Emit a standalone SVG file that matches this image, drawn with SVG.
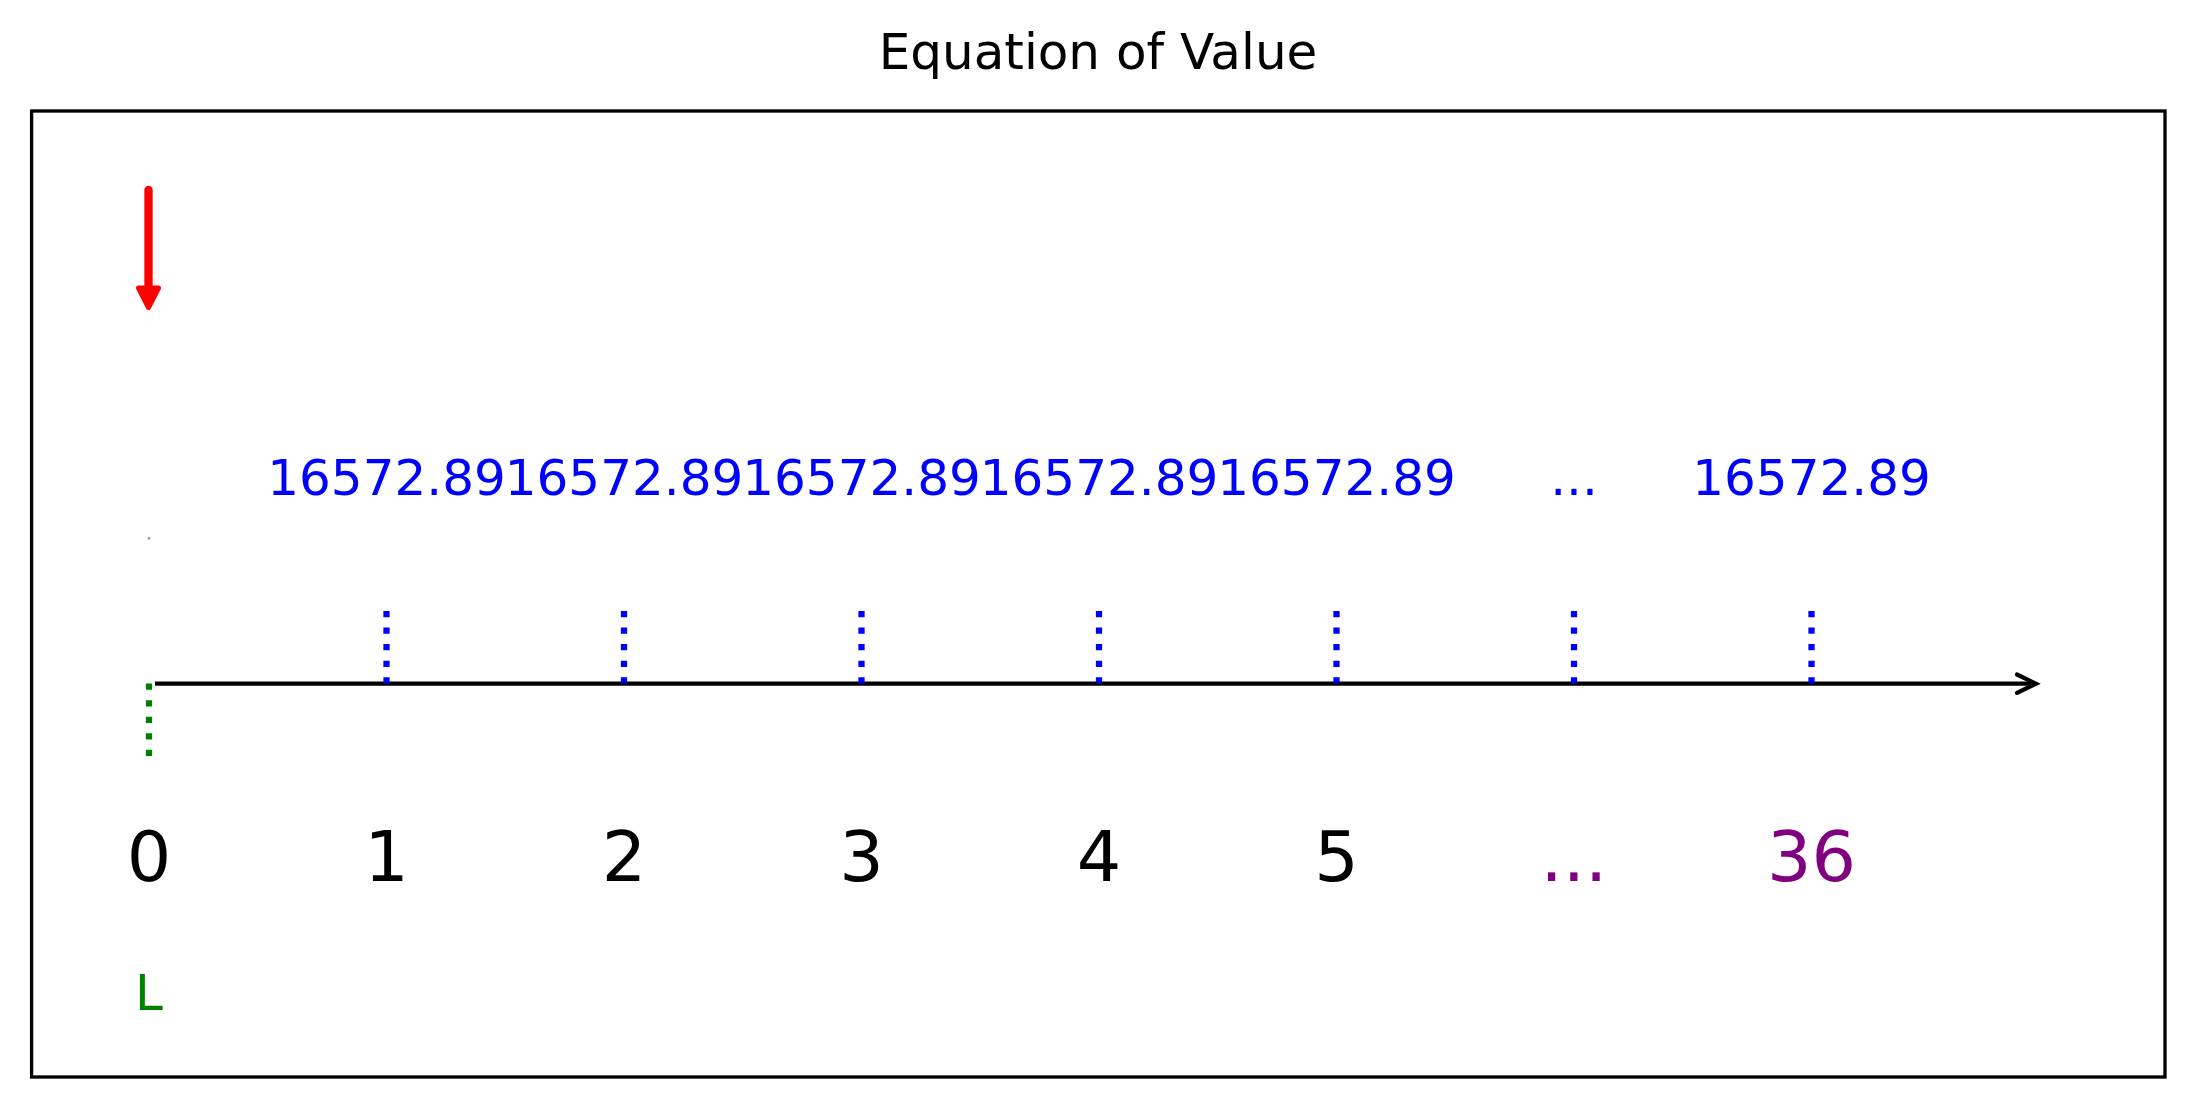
<svg xmlns="http://www.w3.org/2000/svg" width="2196" height="1109" viewBox="0 0 2196 1109">
<style>
text{font-family:"DejaVu Sans","Liberation Sans",sans-serif;text-anchor:middle}
.t{font-size:50px}
.big{font-size:70px}
.blue{fill:#0000ff}
.purple{fill:#800080}
.vb{stroke:#0000ff;stroke-width:6.25;stroke-dasharray:6.25 10.31;fill:none}
.vg{stroke:#008000;stroke-width:6.25;stroke-dasharray:6.25 10.31;fill:none}
</style>
<rect x="0" y="0" width="2196" height="1109" fill="#ffffff"/>
<text class="t" x="1098" y="68.5" fill="#000000">Equation of Value</text>
<rect x="31.6" y="111" width="2133.4" height="966" fill="none" stroke="#000000" stroke-width="3.33"/>
<g id="connectors">
  <line x1="155" y1="683.7" x2="2034" y2="683.7" stroke="#000000" stroke-width="4.17"/>
  <polyline points="2017,674.5 2036,683.7 2017,692.9" fill="none" stroke="#000000" stroke-width="4.17" stroke-linecap="round" stroke-linejoin="miter"/>
  <line x1="148.5" y1="190" x2="148.5" y2="292" stroke="#ff0000" stroke-width="8.33" stroke-linecap="round"/>
  <polygon points="138.5,288 158.5,288 148.5,307.5" fill="#ff0000" stroke="#ff0000" stroke-width="5" stroke-linejoin="round"/>
  <line class="vg" x1="149" y1="683.6" x2="149" y2="756"/>
  <line class="vb" x1="386.5" y1="611" x2="386.5" y2="683.6"/>
  <line class="vb" x1="624" y1="611" x2="624" y2="683.6"/>
  <line class="vb" x1="861.5" y1="611" x2="861.5" y2="683.6"/>
  <line class="vb" x1="1099" y1="611" x2="1099" y2="683.6"/>
  <line class="vb" x1="1336.5" y1="611" x2="1336.5" y2="683.6"/>
  <line class="vb" x1="1574" y1="611" x2="1574" y2="683.6"/>
  <line class="vb" x1="1811.5" y1="611" x2="1811.5" y2="683.6"/>
</g>
<g id="dot"><circle cx="149" cy="538.3" r="1.4" fill="#999999"/></g>
<g id="t0"><text class="big" x="149" y="880.5">0</text><text class="t" x="149" y="1010" fill="#008000">L</text></g>
<g id="t1"><text class="big" x="386.5" y="880.5">1</text><text class="t blue" x="386.5" y="495">16572.89</text></g>
<g id="t2"><text class="big" x="624" y="880.5">2</text><text class="t blue" x="624" y="495">16572.89</text></g>
<g id="t3"><text class="big" x="861.5" y="880.5">3</text><text class="t blue" x="861.5" y="495">16572.89</text></g>
<g id="t4"><text class="big" x="1099" y="880.5">4</text><text class="t blue" x="1099" y="495">16572.89</text></g>
<g id="t5"><text class="big" x="1336.5" y="880.5">5</text><text class="t blue" x="1336.5" y="495">16572.89</text></g>
<g id="t6"><text class="big purple" x="1574" y="880.5">...</text><text class="t blue" x="1574" y="495">...</text></g>
<g id="t36"><text class="big purple" x="1811.5" y="880.5">36</text><text class="t blue" x="1811.5" y="495">16572.89</text></g>
</svg>
